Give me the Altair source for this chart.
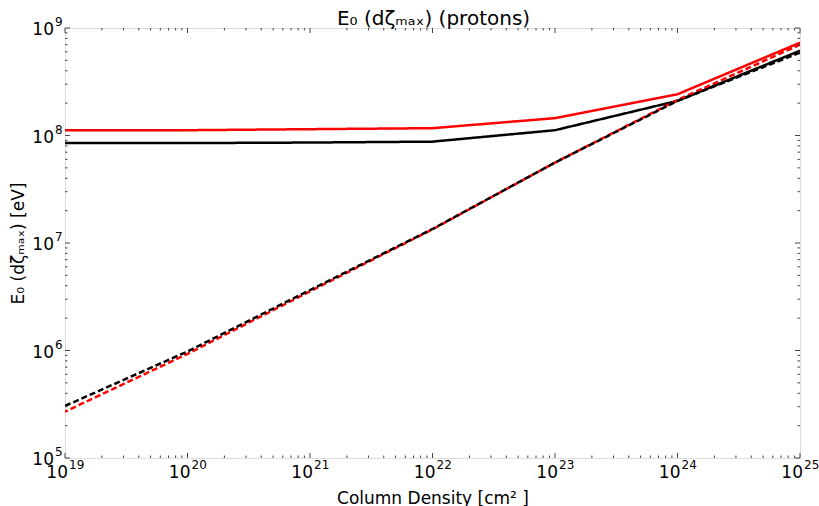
import altair as alt
import pandas as pd

# Column density grid (cm^-2) and E0 values (eV) for each curve
column_density = [1e19, 1e20, 1e21, 1e22, 1e23, 1e24, 1e25]
e0_red_solid = [1.12e8, 1.12e8, 1.145e8, 1.17e8, 1.45e8, 2.42e8, 7.3e8]
e0_black_solid = [8.5e7, 8.5e7, 8.6e7, 8.77e7, 1.12e8, 2.1e8, 6.15e8]
e0_red_dashed = [2.7e5, 9.3e5, 3.55e6, 1.34e7, 5.6e7, 2.14e8, 7.0e8]
e0_black_dashed = [3.05e5, 9.8e5, 3.65e6, 1.35e7, 5.6e7, 2.1e8, 5.9e8]

# Axis ticks and their power-of-ten labels
x_major = [1e19, 1e20, 1e21, 1e22, 1e23, 1e24, 1e25]
x_exponents = ["19", "20", "21", "22", "23", "24", "25"]
y_major = [1e5, 1e6, 1e7, 1e8, 1e9]
y_exponents = ["5", "6", "7", "8", "9"]
x_minor = [k * 10.0 ** n for n in range(19, 25) for k in range(2, 10)]
y_minor = [k * 10.0 ** n for n in range(5, 9) for k in range(2, 10)]

title_text = "E₀ (dζₘₐₓ) (protons)"
x_title = "Column Density [cm² ]"
y_title = "E₀ (dζₘₐₓ) [eV]"

W, H = 735, 430
FONT = "DejaVu Sans"
TICK_COLOR = "#444444"
LABEL_SIZE = 17
EXP_SIZE = 12

x_scale = alt.Scale(type="log", domain=[1e19, 1e25], nice=False)
y_scale = alt.Scale(type="log", domain=[1e5, 1e9], nice=False)

curves = []
for name, vals in [("red_solid", e0_red_solid), ("black_solid", e0_black_solid),
                   ("red_dashed", e0_red_dashed), ("black_dashed", e0_black_dashed)]:
    for xv, yv in zip(column_density, vals):
        curves.append({"N": xv, "E0": yv, "curve": name})
df = pd.DataFrame(curves)

x_axis = alt.Axis(values=x_major, labels=False, ticks=False, domain=False, grid=False,
                  title=x_title, titleFont=FONT, titleFontSize=LABEL_SIZE,
                  titleFontWeight="normal", titleColor="black",
                  titleX=W / 2, titleY=45, titleBaseline="alphabetic", titleAlign="center")
y_axis = alt.Axis(values=y_major, labels=False, ticks=False, domain=False, grid=False,
                  title=y_title, titleFont=FONT, titleFontSize=LABEL_SIZE,
                  titleFontWeight="normal", titleColor="black",
                  titleX=-47, titleY=H / 2, titleAngle=-90,
                  titleBaseline="middle", titleAlign="center")


def curve_layer(name, color, dash, dash_offset=0):
    return alt.Chart(df).transform_filter(alt.datum.curve == name).mark_line(
        color=color, strokeWidth=2.5, strokeDash=dash, strokeDashOffset=dash_offset,
        clip=True
    ).encode(
        x=alt.X("N:Q", scale=x_scale, axis=x_axis),
        y=alt.Y("E0:Q", scale=y_scale, axis=y_axis),
    )


lines = [
    curve_layer("black_solid", "black", [1, 0]),
    curve_layer("red_solid", "#ff0000", [1, 0]),
    curve_layer("red_dashed", "#ff0000", [6, 3], 3),
    curve_layer("black_dashed", "black", [6, 3]),
]


def tick_layers(values, size, axis):
    d = pd.DataFrame({"v": values})
    base = alt.Chart(d).mark_rule(color=TICK_COLOR, strokeWidth=1)
    if axis == "x":
        enc = dict(x=alt.X("v:Q", scale=x_scale, axis=x_axis))
        return [
            base.encode(y=alt.value(H), y2=alt.value(H - size), **enc),
            base.encode(y=alt.value(0), y2=alt.value(size), **enc),
        ]
    enc = dict(y=alt.Y("v:Q", scale=y_scale, axis=y_axis))
    return [
        base.encode(x=alt.value(0), x2=alt.value(size), **enc),
        base.encode(x=alt.value(W), x2=alt.value(W - size), **enc),
    ]


ticks = (tick_layers(x_major, 5, "x") + tick_layers(x_minor, 2.5, "x")
         + tick_layers(y_major, 5, "y") + tick_layers(y_minor, 2.5, "y"))

# Tick labels drawn as "10" with a raised exponent
xl = pd.DataFrame({"v": x_major, "base": ["10"] * len(x_major), "exp": x_exponents})
yl = pd.DataFrame({"v": y_major, "base": ["10"] * len(y_major), "exp": y_exponents})
xenc = dict(x=alt.X("v:Q", scale=x_scale, axis=x_axis))
yenc = dict(y=alt.Y("v:Q", scale=y_scale, axis=y_axis))
labels = [
    alt.Chart(xl).mark_text(font=FONT, fontSize=LABEL_SIZE, align="right",
                            baseline="alphabetic", dx=3, color="black")
    .encode(text="base:N", y=alt.value(H + 20), **xenc),
    alt.Chart(xl).mark_text(font=FONT, fontSize=EXP_SIZE, align="left",
                            baseline="alphabetic", dx=4, color="black")
    .encode(text="exp:N", y=alt.value(H + 11), **xenc),
    alt.Chart(yl).mark_text(font=FONT, fontSize=LABEL_SIZE, align="right",
                            baseline="alphabetic", dy=7, color="black")
    .encode(text="base:N", x=alt.value(-11), **yenc),
    alt.Chart(yl).mark_text(font=FONT, fontSize=EXP_SIZE, align="left",
                            baseline="alphabetic", dy=-2, color="black")
    .encode(text="exp:N", x=alt.value(-10), **yenc),
]

title = alt.Chart(pd.DataFrame({"t": [title_text]})).mark_text(
    font=FONT, fontSize=20, align="center", baseline="alphabetic", color="black"
).encode(text="t:N", x=alt.value(W / 2 + 1), y=alt.value(-3))

chart = alt.layer(*lines, *ticks, *labels, title).properties(
    width=W, height=H,
    autosize=alt.AutoSizeParams(type="none"),
    padding={"left": 65, "top": 28, "right": 19, "bottom": 48},
).configure_view(stroke="#555555", strokeWidth=1.2).configure(background="white")

chart.save("out.html", embed_options={"renderer": "svg", "actions": False})
